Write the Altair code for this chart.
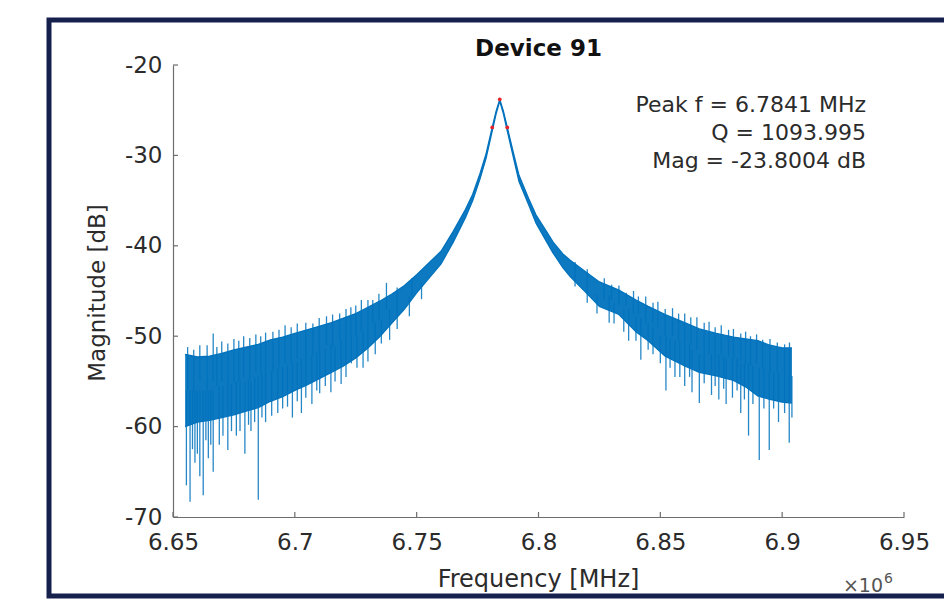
import altair as alt
import pandas as pd

# ---- data (frequency in MHz, magnitude in dB) ----
freq = [6.6550, 6.6600, 6.6650, 6.6700, 6.6750, 6.6800, 6.6850, 6.6900, 6.6950, 6.7000,
        6.7050, 6.7100, 6.7150, 6.7200, 6.7250, 6.7300, 6.7350, 6.7400, 6.7450, 6.7500,
        6.7550, 6.7600, 6.7650, 6.7700, 6.7730, 6.7760, 6.7785, 6.7810, 6.7826, 6.7841,
        6.7856, 6.7872, 6.7895, 6.7920, 6.7960, 6.7990, 6.8030, 6.8060, 6.8100, 6.8130,
        6.8200, 6.8250, 6.8330, 6.8400, 6.8450, 6.8520, 6.8600, 6.8660, 6.8730, 6.8800,
        6.8850, 6.8900, 6.8950, 6.9000, 6.9040]
upper = [-52.0, -52.3, -52.2, -51.9, -51.5, -51.2, -50.9, -50.4, -50.1, -49.7,
         -49.3, -48.9, -48.5, -48.0, -47.5, -46.8, -46.1, -45.3, -44.4, -43.2,
         -41.9, -40.6, -38.4, -36.0, -34.3, -32.0, -29.8, -26.9, -25.1, -23.8,
         -25.1, -26.9, -29.5, -32.2, -34.8, -36.6, -38.3, -39.6, -40.9, -41.6,
         -43.0, -44.0, -44.9, -46.0, -46.7, -47.6, -48.5, -49.2, -49.7, -50.1,
         -50.3, -50.5, -51.0, -51.3, -51.3]
lower = [-60.0, -59.5, -59.3, -59.0, -58.7, -58.3, -57.9, -57.2, -56.7, -56.0,
         -55.4, -54.7, -54.0, -53.3, -52.4, -51.3, -50.0, -48.5, -47.0, -45.2,
         -43.6, -42.0, -39.6, -36.9, -35.0, -32.6, -30.3, -27.3, -25.4, -24.0,
         -25.4, -27.3, -30.0, -32.9, -35.5, -37.5, -39.4, -40.8, -42.4, -43.4,
         -45.3, -46.7, -47.6, -49.5, -50.5, -52.2, -53.3, -54.0, -54.4, -54.9,
         -55.6, -56.6, -57.0, -57.3, -57.4]

# noise spikes: position, tip value, value inside the band where the spike starts
spike_f = [6.6555, 6.6570, 6.6590, 6.6610, 6.6624, 6.6645, 6.6665, 6.6690, 6.6725, 6.6760,
           6.6795, 6.6820, 6.6850, 6.6880, 6.6930, 6.6990, 6.7027, 6.7070, 6.7102, 6.7148,
           6.7190, 6.7232, 6.7280, 6.7330, 6.7389,
           6.6580, 6.6600, 6.6635, 6.6655, 6.6705, 6.6740, 6.6775, 6.6810, 6.6835, 6.6865,
           6.6905, 6.6950, 6.6970, 6.7010, 6.7045, 6.7090, 6.7125, 6.7165, 6.7210, 6.7255,
           6.7300, 6.7355, 6.7420, 6.7470, 6.7520,
           6.6610, 6.6665, 6.6700, 6.6750, 6.6790, 6.6840, 6.6880, 6.6960, 6.7010, 6.7074,
           6.7130, 6.7184, 6.7230, 6.7273, 6.7320, 6.7376,
           6.6560, 6.6585, 6.6640, 6.6680, 6.6725, 6.6770, 6.6815, 6.6860, 6.6910, 6.6935,
           6.6985, 6.7045, 6.7100, 6.7155, 6.7210, 6.7250, 6.7300, 6.7345, 6.7420, 6.7480,
           6.8290, 6.8370, 6.8420, 6.8470, 6.8523, 6.8560, 6.8600, 6.8630, 6.8660, 6.8710,
           6.8740, 6.8770, 6.8796, 6.8830, 6.8862, 6.8906, 6.8947, 6.8985, 6.9029,
           6.8150, 6.8200, 6.8240, 6.8310, 6.8350, 6.8400, 6.8450, 6.8500, 6.8540, 6.8580,
           6.8620, 6.8680, 6.8725, 6.8760, 6.8815, 6.8845, 6.8880, 6.8925, 6.8965, 6.9010,
           6.9040,
           6.8270, 6.8330, 6.8390, 6.8440, 6.8490, 6.8550, 6.8600, 6.8650, 6.8700, 6.8750,
           6.8800, 6.8850, 6.8895, 6.8950, 6.9030,
           6.8150, 6.8200, 6.8300, 6.8360, 6.8410, 6.8470, 6.8520, 6.8575, 6.8625, 6.8680,
           6.8725, 6.8780, 6.8830, 6.8870, 6.8920, 6.8980, 6.9010]
spike_tip = [-66.5, -68.3, -64.0, -65.5, -67.6, -63.5, -65.0, -62.0, -62.6, -61.0,
             -63.0, -60.5, -68.1, -59.5, -58.5, -59.0, -58.5, -57.5, -56.3, -56.2,
             -55.3, -53.0, -53.5, -52.0, -50.4,
             -62.5, -63.0, -61.5, -62.0, -61.0, -60.5, -60.5, -59.8, -59.5, -59.0,
             -58.8, -58.0, -57.8, -57.2, -56.8, -56.0, -55.5, -55.0, -54.5, -53.5,
             -52.8, -50.8, -49.2, -47.8, -45.9,
             -51.0, -49.7, -50.6, -50.3, -50.0, -49.8, -49.6, -48.8, -48.6, -48.6,
             -47.8, -47.5, -46.8, -46.0, -46.0, -44.1,
             -51.2, -51.5, -51.0, -51.2, -50.8, -50.5, -50.2, -50.0, -49.5, -49.3,
             -49.0, -48.5, -48.0, -47.6, -47.0, -46.6, -46.0, -45.3, -44.6, -43.6,
             -48.5, -50.5, -52.6, -52.0, -56.0, -54.5, -55.5, -56.2, -57.4, -56.5,
             -57.0, -57.5, -56.8, -58.5, -61.0, -63.7, -62.6, -59.5, -61.8,
             -44.5, -46.3, -47.5, -48.6, -49.5, -50.5, -51.5, -53.0, -53.5, -54.5,
             -54.5, -55.2, -55.5, -55.8, -56.0, -57.0, -57.5, -58.0, -58.0, -58.5,
             -59.0,
             -43.6, -44.4, -45.0, -45.6, -46.2, -46.9, -47.5, -47.9, -48.4, -48.8,
             -49.2, -49.5, -49.8, -50.3, -50.7,
             -41.8, -42.6, -44.3, -45.2, -45.6, -46.3, -47.0, -47.5, -47.9, -48.5,
             -49.0, -49.3, -49.7, -50.0, -50.4, -50.7, -50.9]
spike_base = [-56.0, -56.0, -56.0, -56.0, -56.0, -56.0, -56.0, -55.5, -55.5, -55.0,
              -55.0, -55.0, -54.5, -54.0, -53.5, -53.0, -52.5, -52.0, -51.5, -51.0,
              -50.5, -50.0, -49.5, -48.5, -47.0,
              -56.0, -56.0, -56.0, -56.0, -55.5, -55.2, -55.0, -54.8, -54.5, -54.2,
              -53.8, -53.4, -53.2, -52.9, -52.4, -51.8, -51.4, -51.2, -50.7, -50.0,
              -49.2, -48.2, -46.7, -45.6, -44.1,
              -55.0, -55.0, -55.0, -55.0, -54.5, -54.0, -54.0, -53.0, -52.5, -52.0,
              -51.0, -50.5, -50.0, -49.5, -48.5, -47.0,
              -56.0, -56.0, -56.0, -55.5, -55.5, -55.0, -54.8, -54.3, -53.8, -53.4,
              -53.0, -52.4, -51.8, -51.2, -50.7, -50.0, -49.2, -48.2, -46.7, -45.6,
              -45.5, -47.0, -48.0, -49.0, -50.0, -50.5, -51.0, -51.5, -52.0, -52.0,
              -52.0, -52.5, -52.5, -53.0, -53.0, -53.5, -54.0, -54.0, -54.5,
              -42.5, -44.2, -45.4, -46.3, -47.0, -47.8, -48.6, -49.9, -50.3, -50.6,
              -50.9, -51.6, -52.0, -52.2, -52.5, -53.0, -53.3, -53.6, -54.0, -54.3,
              -54.4,
              -46.0, -46.5, -47.5, -48.5, -49.0, -50.0, -51.0, -51.5, -52.0, -52.0,
              -52.5, -53.0, -53.0, -54.0, -54.5,
              -42.5, -44.2, -46.0, -46.6, -47.6, -48.6, -49.9, -50.5, -50.9, -51.6,
              -52.0, -52.3, -52.8, -53.2, -53.6, -54.0, -54.3]

marker_f = [6.7810, 6.7841, 6.7872]
marker_m = [-26.9, -23.8, -26.9]

x_ticks = [6.65, 6.7, 6.75, 6.8, 6.85, 6.9, 6.95]
y_ticks = [-70, -60, -50, -40, -30, -20]

title_text = "Device 91"
annot_lines = ["Peak f = 6.7841 MHz", "Q = 1093.995", "Mag = -23.8004 dB"]
x_title = "Frequency [MHz]"
y_title = "Magnitude [dB]"

# ---- chart ----
BLUE = "#0072BD"
AXC = "#6e6e6e"
TXT = "#2b2b2b"
FONT = "DejaVu Sans"
W, H = 731, 452

band = pd.DataFrame({"f": freq, "m": upper, "m2": lower})
spikes = pd.DataFrame({"f": spike_f, "m": spike_tip, "m2": spike_base})
markers = pd.DataFrame({"f": marker_f, "m": marker_m})
xt = pd.DataFrame({"f": x_ticks})
yt = pd.DataFrame({"m": y_ticks})

xs = alt.Scale(domain=[6.65, 6.95], nice=False, zero=False)
ys = alt.Scale(domain=[-70, -20], nice=False, zero=False)

X = alt.X("f:Q", scale=xs, title=None,
          axis=alt.Axis(values=x_ticks, labelExpr="'' + datum.value", ticks=False,
                        grid=False, labelPadding=14, labelFontSize=23, labelFont=FONT,
                        labelColor=TXT, domainColor=AXC, domainWidth=1.2, labelFlush=False))
Y = alt.Y("m:Q", scale=ys, title=None,
          axis=alt.Axis(values=y_ticks, labelExpr="'' + datum.value", ticks=False,
                        grid=False, labelPadding=11, labelFontSize=23, labelFont=FONT,
                        labelColor=TXT, domainColor=AXC, domainWidth=1.2, labelFlush=False))

area = alt.Chart(band).mark_area(color=BLUE, opacity=0.95).encode(x=X, y=Y, y2="m2:Q")
edge_hi = alt.Chart(band).mark_line(color=BLUE, strokeWidth=1.3).encode(
    x=alt.X("f:Q", scale=xs), y=alt.Y("m:Q", scale=ys))
edge_lo = alt.Chart(band).mark_line(color=BLUE, strokeWidth=1.3).encode(
    x=alt.X("f:Q", scale=xs), y=alt.Y("m2:Q", scale=ys))
spk = alt.Chart(spikes).mark_rule(color=BLUE, strokeWidth=1.3, opacity=0.85).encode(
    x=alt.X("f:Q", scale=xs), y=alt.Y("m:Q", scale=ys), y2="m2:Q")
mk = alt.Chart(markers).mark_point(color="#e8202a", filled=True, size=14, opacity=1).encode(
    x=alt.X("f:Q", scale=xs), y=alt.Y("m:Q", scale=ys))

xtick = alt.Chart(xt).mark_rule(color=AXC, strokeWidth=1.2).encode(
    x=alt.X("f:Q", scale=xs), y=alt.value(H), y2=alt.value(H - 5))
ytick = alt.Chart(yt).mark_rule(color=AXC, strokeWidth=1.2).encode(
    y=alt.Y("m:Q", scale=ys), x=alt.value(0), x2=alt.value(5))

one = pd.DataFrame({"t": [title_text]})
frame = alt.Chart(one).mark_rect(fill=None, stroke="#15204d", strokeWidth=5).encode(
    x=alt.value(-124), x2=alt.value(W + 200), y=alt.value(-45), y2=alt.value(531))

title = alt.Chart(one).mark_text(font=FONT, fontSize=23, fontWeight="bold", color="#111111",
                                 align="center", baseline="alphabetic").encode(
    x=alt.value(W / 2), y=alt.value(-9), text="t:N")

annots = []
for txt, yy in zip(annot_lines, [47, 75, 103]):
    annots.append(alt.Chart(pd.DataFrame({"t": [txt]})).mark_text(
        font=FONT, fontSize=22, color=TXT, align="right", baseline="alphabetic").encode(
        x=alt.value(693), y=alt.value(yy), text="t:N"))

xtitle = alt.Chart(pd.DataFrame({"t": [x_title]})).mark_text(
    font=FONT, fontSize=24, color=TXT, align="center", baseline="alphabetic").encode(
    x=alt.value(W / 2), y=alt.value(522), text="t:N")
ytitle = alt.Chart(pd.DataFrame({"t": [y_title]})).mark_text(
    font=FONT, fontSize=23, color=TXT, align="center", baseline="alphabetic", angle=270).encode(
    x=alt.value(-68), y=alt.value(228), text="t:N")
mult = alt.Chart(pd.DataFrame({"t": ["\u00d710"]})).mark_text(
    font=FONT, fontSize=19, color="#555555", align="right", baseline="alphabetic").encode(
    x=alt.value(710), y=alt.value(527), text="t:N")
expo = alt.Chart(pd.DataFrame({"t": ["6"]})).mark_text(
    font=FONT, fontSize=14, color="#555555", align="left", baseline="alphabetic").encode(
    x=alt.value(711), y=alt.value(518), text="t:N")

chart = alt.layer(area, edge_hi, edge_lo, spk, mk, xtick, ytick, frame, title, *annots,
                  xtitle, ytitle, mult, expo).properties(
    width=W, height=H,
    autosize=alt.AutoSizeParams(type="none"),
    padding={"left": 165, "top": 57, "right": 40, "bottom": 82},
    background="white",
).configure_view(stroke=None)

chart.save("out.html", embed_options={"renderer": "svg", "actions": False})
